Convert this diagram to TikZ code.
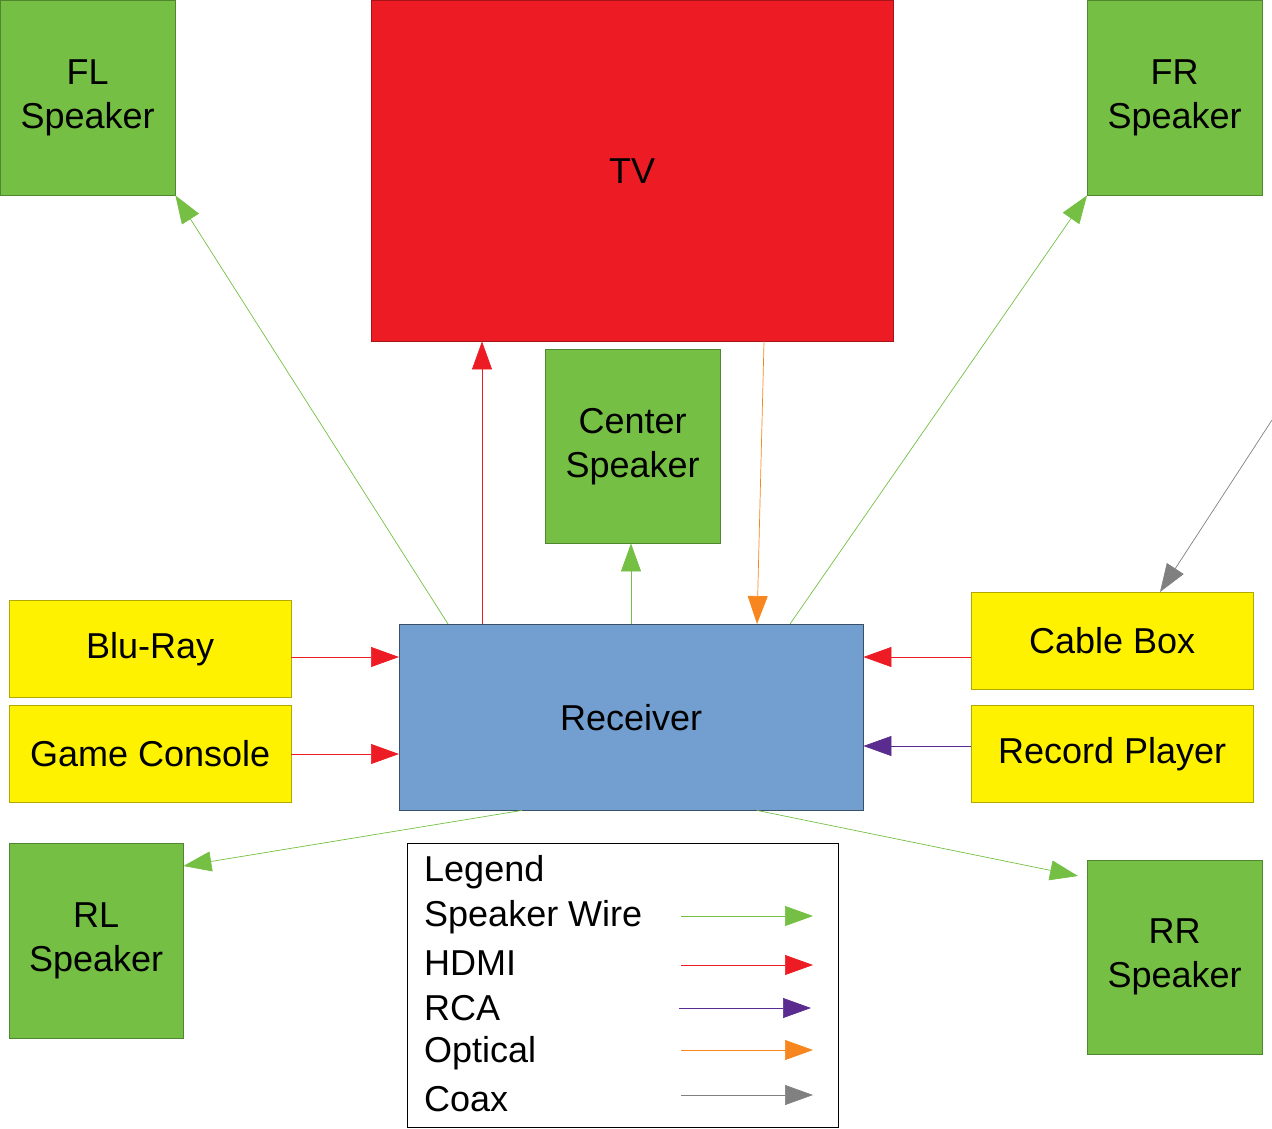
\documentclass[tikz,border=0pt]{standalone}
\usepackage{fontspec}
\setmainfont{Liberation Sans}
\usetikzlibrary{arrows.meta,calc}
\definecolor{sg}{HTML}{74BF44}
\definecolor{tvr}{HTML}{ED1C24}
\definecolor{rb}{HTML}{729FCF}
\definecolor{yl}{HTML}{FFF200}
\definecolor{pu}{HTML}{5B2C8F}
\definecolor{og}{HTML}{F7861F}
\definecolor{gy}{HTML}{808080}
\begin{document}
\begin{tikzpicture}[x=1pt,y=-1pt,
 box/.style={draw=#1!70!black,line width=0.4pt,fill=#1,inner sep=0,align=center,font=\fontsize{36}{44}\selectfont,anchor=north west},
 con/.style={draw=#1,line width=0.7pt,-{Triangle[length=28pt,width=20pt,fill=#1]}}]
\useasboundingbox (0,0) rectangle (1272,1128);
\node[box=sg,minimum width=175,minimum height=195] (fl) at (0,0) {FL\\Speaker};
\node[box=sg,minimum width=175,minimum height=195] (fr) at (1087,0) {FR\\Speaker};
\node[box=tvr,minimum width=522,minimum height=341] (tv) at (371,0) {TV};
\node[box=sg,minimum width=175,minimum height=194] (cs) at (545,349) {Center\\Speaker};
\node[box=rb,draw=rb!50!black,minimum width=464,minimum height=186] (rec) at (399,624) {Receiver};
\node[box=yl,minimum width=282,minimum height=97] (br) at (9,600) {Blu-Ray};
\node[box=yl,minimum width=282,minimum height=97] (gc) at (9,705) {Game Console};
\node[box=yl,minimum width=282,minimum height=97] (cb) at (971,592) {Cable Box};
\node[box=yl,minimum width=282,minimum height=97] (rp) at (971,705) {Record Player};
\node[box=sg,minimum width=174,minimum height=195] (rl) at (9,843) {RL\\Speaker};
\node[box=sg,minimum width=175,minimum height=194] (rr) at (1087,860) {RR\\Speaker};
\node[draw=black,line width=0.8pt,minimum width=431,minimum height=284,anchor=north west,inner sep=0] (lg) at (407,843) {};
\coordinate (cx) at (1272,420);
% connectors
\draw[con=sg] ($(rec.north west)+(49,0)$) -- (fl.south east);
\draw[con=tvr] ($(rec.north west)+(83,0)$) -- ($(tv.south west)+(111,0)$);
\draw[con=sg] ($(rec.north west)+(232,0)$) -- ($(cs.south west)+(86,0)$);
\draw[con=og] ($(tv.south west)+(393,0)$) -- ($(rec.north west)+(358,0)$);
\draw[con=sg] ($(rec.north west)+(391,0)$) -- (fr.south west);
\draw[con=gy] (cx) -- ($(cb.north west)+(189,0)$);
\draw[con=tvr] ($(br.north east)+(0,57)$) -- ($(rec.north west)+(0,33)$);
\draw[con=tvr] ($(gc.north east)+(0,49)$) -- ($(rec.north west)+(0,130)$);
\draw[con=tvr] ($(cb.north west)+(0,65)$) -- ($(rec.north east)+(0,33)$);
\draw[con=pu] ($(rp.north west)+(0,41)$) -- ($(rec.north east)+(0,122)$);
\draw[con=sg] ($(rec.south west)+(123,0)$) -- ($(rl.north east)+(0,23)$);
\draw[con=sg] ($(rec.south west)+(358,0)$) -- ($(rr.north west)+(-9,16)$);
% legend
\begin{scope}[every node/.style={anchor=west,inner sep=0,font=\fontsize{36}{44}\selectfont}]
\node (l0) at (424,872) {Legend};
\node (l1) at (424,917) {Speaker Wire};
\node (l2) at (424,963) {HDMI};
\node (l3) at (424,1008) {RCA};
\node (l4) at (424,1053) {Optical};
\node (l5) at (424,1099) {Coax};
\end{scope}
\coordinate (a1) at (681,916); \coordinate (b1) at (813,916);
\coordinate (a2) at (681,965); \coordinate (b2) at (813,965);
\coordinate (a3) at (679,1008); \coordinate (b3) at (811,1008);
\coordinate (a4) at (681,1050); \coordinate (b4) at (813,1050);
\coordinate (a5) at (681,1095); \coordinate (b5) at (813,1095);
\draw[con=sg] (a1) -- (b1);
\draw[con=tvr] (a2) -- (b2);
\draw[con=pu] (a3) -- (b3);
\draw[con=og] (a4) -- (b4);
\draw[con=gy] (a5) -- (b5);
\end{tikzpicture}
\end{document}
